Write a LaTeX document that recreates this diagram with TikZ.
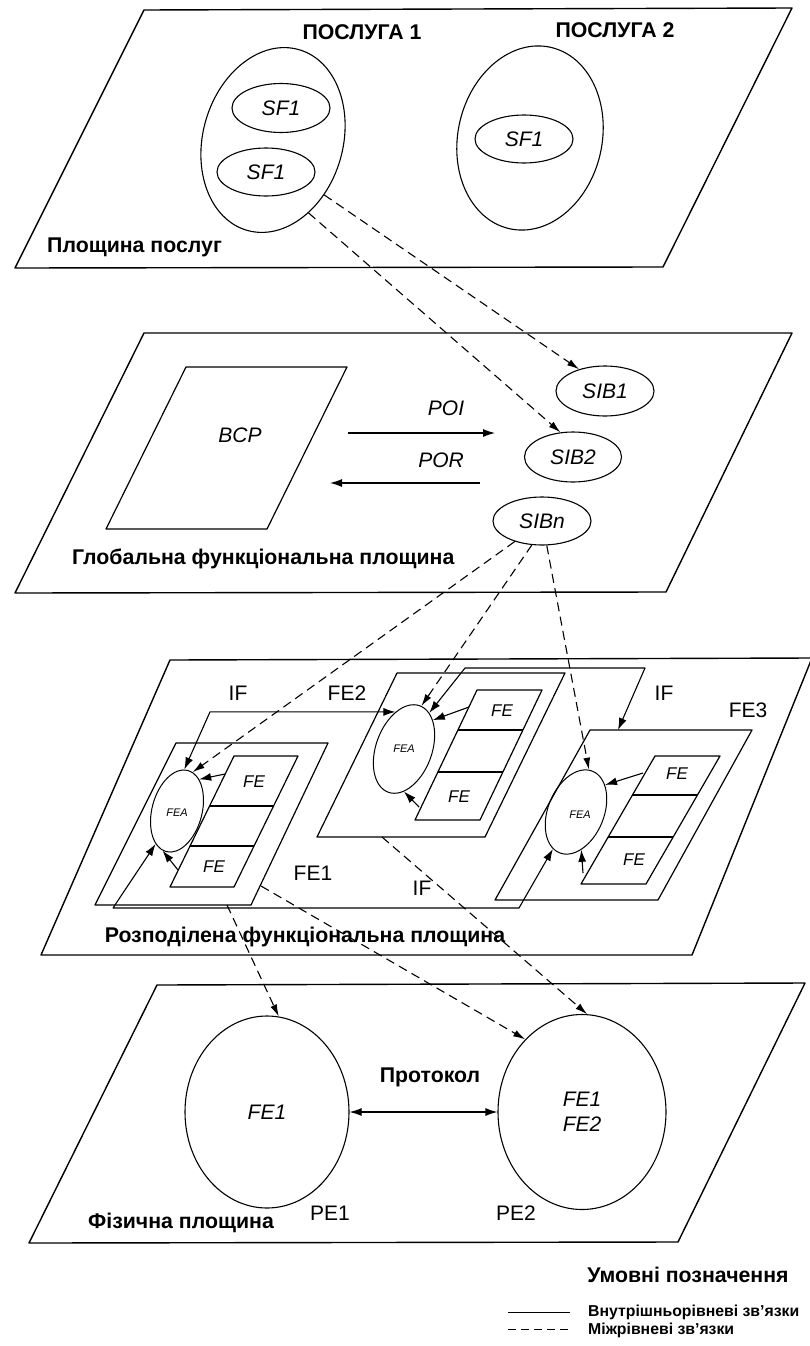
\documentclass[tikz,border=0pt]{standalone}
\usepackage{fontspec}
\setmainfont{Liberation Sans}
\usetikzlibrary{arrows.meta,shapes.geometric}
\begin{document}
\begin{tikzpicture}[x=1pt,y=-1pt,
  plane/.style={draw, line width=1.4pt, line join=round},
  box/.style={draw, line width=1.2pt, line join=round},
  oval/.style={ellipse, draw, line width=1.1pt, inner sep=0pt},
  fea/.style={ellipse, draw, line width=1pt, inner sep=0pt},
  intra/.style={line width=1.1pt, line join=round, -{Latex[length=12pt,width=8pt]}},
  twoway/.style={line width=1.1pt, line join=round, {Latex[length=12pt,width=8pt]}-{Latex[length=12pt,width=8pt]}},
  inter/.style={line width=1.1pt, dash pattern=on 9pt off 5.5pt, -{Latex[length=12pt,width=7pt]}},
  ttl/.style={font=\fontsize{21.3}{25}\selectfont\bfseries, inner sep=0pt},
  lbl/.style={font=\fontsize{21}{25}\selectfont, inner sep=0pt},
  ilbl/.style={font=\fontsize{21}{25}\selectfont\itshape, inner sep=0pt},
  fel/.style={font=\fontsize{17}{17}\selectfont\itshape, inner sep=0pt},
  feal/.style={font=\fontsize{11}{11}\selectfont\itshape, inner sep=0pt},
  legtext/.style={font=\fontsize{15.8}{18}\selectfont\bfseries, inner sep=0pt, anchor=west},
]
\useasboundingbox (0,0) rectangle (809,1346);
\fill[white] (0,0) rectangle (809,1346);

% ================= service plane =================
\draw[plane] (144,10) -- (792,8) -- (663,267) -- (15,268) -- cycle;
\node[ttl] (srv1) at (362,32) {ПОСЛУГА 1};
\node[ttl] (srv2) at (615,30) {ПОСЛУГА 2};
\node[oval, minimum width=140pt, minimum height=188pt, rotate=-16] (S1) at (273,140) {};
\node[oval, minimum width=144pt, minimum height=186pt, rotate=-13] (S2) at (530,138) {};
\node[oval, ilbl, minimum width=98pt, minimum height=49pt] (SF1a) at (281,108) {SF1};
\node[oval, ilbl, minimum width=98pt, minimum height=48pt] (SF1b) at (266,172) {SF1};
\node[oval, ilbl, minimum width=98pt, minimum height=48pt] (SF1c) at (524,139) {SF1};
\node[ttl, anchor=west] (pl1) at (47,247) {Площина послуг};

% ================= global functional plane =================
\draw[plane] (144,333) -- (792,333) -- (666,592) -- (15,593) -- cycle;
\draw[box] (186,367) -- (347,367) -- (267,529) -- (106,529) -- cycle;
\node[ilbl] (bcp) at (240,435) {BCP};
\coordinate (poiA) at (348,433);
\coordinate (poiB) at (495,433);
\coordinate (porA) at (480,483);
\coordinate (porB) at (330,483);
\draw[intra] (poiA) -- (poiB);
\draw[intra] (porA) -- (porB);
\node[ilbl] (poi) at (446,408) {POI};
\node[ilbl] (por) at (441,460) {POR};
\node[oval, ilbl, minimum width=98pt, minimum height=50pt] (SIB1) at (605,391) {SIB1};
\node[oval, ilbl, minimum width=97pt, minimum height=50pt] (SIB2) at (573,457) {SIB2};
\node[oval, ilbl, minimum width=98pt, minimum height=48pt] (SIBn) at (542,521) {SIBn};
\node[ttl, anchor=west] (pl2) at (72,559) {Глобальна функціональна площина};

\draw[inter] (S1.-31) -- (SIB1.140);
\draw[inter] (S1.-48) -- (SIB2.117);

% ================= distributed functional plane =================
\draw[plane] (170,660) -- (812,658) -- (692,955) -- (41,955) -- cycle;

% FE1
\draw[box] (176,743) -- (328,743) -- (251,905) -- (95,905) -- cycle;
\draw[box] (234,756) -- (298,756) -- (234,887) -- (170,887) -- cycle;
\draw[box] (209.6,806) -- (273.6,806);
\draw[box] (190,846) -- (254,846);
\node[fel] (fe1t) at (254,782) {FE};
\node[fel] (fe1b) at (214,867) {FE};
\node[fea, minimum width=50pt, minimum height=84pt, rotate=-15] (FEA1) at (177,811) {};
\node[feal] (fea1l) at (177,813) {FEA};

% FE2
\draw[box] (397,673) -- (565,673) -- (485,837) -- (317,837) -- cycle;
\draw[box] (477,690) -- (542,690) -- (480,820) -- (415,820) -- cycle;
\draw[box] (458,730) -- (523,730);
\draw[box] (438,772) -- (503,772);
\node[fel] (fe2t) at (502,711) {FE};
\node[fel] (fe2b) at (459,797) {FE};
\node[fea, minimum width=56pt, minimum height=92pt, rotate=-20] (FEA2) at (404,749) {};
\node[feal] (fea2l) at (404,749) {FEA};

% FE3
\draw[box] (590,730) -- (752,730) -- (658,900) -- (495,900) -- cycle;
\draw[box] (655,756) -- (720,756) -- (646,884) -- (581,884) -- cycle;
\draw[box] (632.4,795) -- (697.4,795);
\draw[box] (608,837) -- (673,837);
\node[fel] (fe3t) at (677,774) {FE};
\node[fel] (fe3b) at (634,860) {FE};
\node[fea, minimum width=56pt, minimum height=88pt, rotate=-22] (FEA3) at (576,812) {};
\node[feal] (fea3l) at (580,815) {FEA};

% interface lines between the entities
\coordinate (c12) at (210,712);
\draw[twoway] (FEA1.95) -- (c12 |- FEA2.123) -- (FEA2.123);
\coordinate (c13a) at (113,908);
\coordinate (c13b) at (519,908);
\draw[twoway] (FEA1.-108) -- (c13a) -- (c13b) -- (FEA3.-100);
\coordinate (c23a) at (465,668);
\coordinate (c23b) at (645,668);
\coordinate (fe3top) at (618,730);
\draw[twoway] (FEA2.75) -- (c23a) -- (c23b) -- (fe3top);

% links from the FE stacks to the FEA
\coordinate (s1a) at (225,774);
\coordinate (s1b) at (178,870);
\coordinate (s2a) at (469,707);
\coordinate (s2b) at (419,807);
\coordinate (s3a) at (643,773);
\coordinate (s3b) at (583,873);
\draw[intra] (s1a) -- (FEA1.70);
\draw[intra] (s1b) -- (FEA1.-95);
\draw[intra] (s2a) -- (FEA2.65);
\draw[intra] (s2b) -- (FEA2.-70);
\draw[intra] (s3a) -- (FEA3.65);
\draw[intra] (s3b) -- (FEA3.-60);

\node[lbl] (if1) at (238,693) {IF};
\node[lbl] (fe2n) at (347,693) {FE2};
\node[lbl] (if2) at (664,693) {IF};
\node[lbl] (fe3n) at (748,710) {FE3};
\node[lbl] (fe1n) at (313,873) {FE1};
\node[lbl] (if3) at (422,888) {IF};
\node[ttl] (pl3) at (305,937) {Розподілена функціональна площина};

\draw[inter] (SIBn.-143) -- (FEA1.83);
\draw[inter] (SIBn.-113) -- (FEA2.88);
\draw[inter] (SIBn.-79) -- (FEA3.95);

% ================= physical plane =================
\draw[plane] (157,985) -- (805,983) -- (678,1242) -- (29,1243) -- cycle;
\node[oval, ilbl, minimum width=164pt, minimum height=192pt] (PE1) at (267,1112) {FE1};
\node[oval, ilbl, minimum width=168pt, minimum height=195pt, align=center] (PE2) at (582,1112) {FE1\\FE2};
\draw[twoway] (PE1) -- (PE2);
\node[ttl] (proto) at (430,1077) {Протокол};
\node[lbl] (pe1n) at (330,1213) {PE1};
\node[lbl] (pe2n) at (516,1213) {PE2};
\node[ttl, anchor=west] (pl4) at (88,1223) {Фізична площина};

\coordinate (fe1bot) at (227,905);
\coordinate (fe1rt) at (261,886);
\coordinate (fe2bot) at (382,837);
\draw[inter] (fe1bot) -- (PE1.83);
\draw[inter] (fe1rt) -- (PE2.128);
\draw[inter] (fe2bot) -- (PE2.87);

% ================= legend =================
\node[ttl] (legt) at (688,1275) {Умовні позначення};
\coordinate (la) at (508,1312);
\coordinate (lb) at (570,1312);
\coordinate (lc) at (508,1329);
\coordinate (ld) at (570,1329);
\draw[line width=1pt] (la) -- (lb);
\draw[line width=1pt, dash pattern=on 8pt off 5pt] (lc) -- (ld);
\node[legtext] (leg1) at (588,1312) {Внутрішньорівневі зв'язки};
\node[legtext] (leg2) at (588,1330) {Міжрівневі зв'язки};
\end{tikzpicture}
\end{document}
